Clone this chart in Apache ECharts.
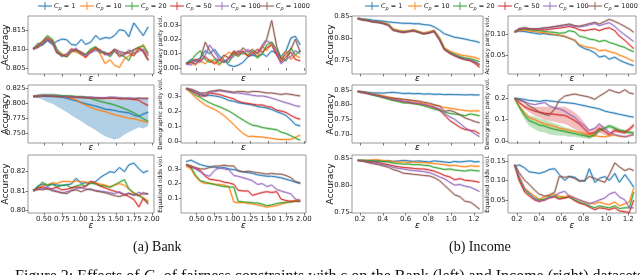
<!DOCTYPE html>
<html><head><meta charset="utf-8">
<script src="https://cdn.jsdelivr.net/npm/echarts@6/dist/echarts.min.js"></script>
<style>html,body{margin:0;padding:0;background:#fff}#c{width:640px;height:275px}</style>
</head><body><div id="c"></div>
<script>
const seriesNames = ['C_p = 1','C_p = 10','C_p = 20','C_p = 50','C_p = 100','C_p = 1000'];
const seriesColors = ['#1f77b4','#ff7f0e','#2ca02c','#d62728','#9467bd','#8c564b'];

const bankEps = [0.35,0.42,0.48,0.55,0.62,0.68,0.75,0.82,0.88,0.95,1.02,1.08,1.15,1.22,1.28,1.35,1.42,1.48,1.55,1.62,1.68,1.75,1.82,1.88,1.95];
const incomeEps = [0.18,0.22,0.27,0.31,0.36,0.40,0.45,0.49,0.54,0.58,0.63,0.67,0.72,0.76,0.81,0.85,0.90,0.94,0.99,1.03,1.08,1.12,1.17,1.21,1.25];

const bankXTicks = [0.5,0.75,1.0,1.25,1.5,1.75,2.0];
const incomeXTicks = [0.2,0.4,0.6,0.8,1.0,1.2];

const bankAccTopTicks = [0.805,0.810,0.815];
const bankApvTicks = [0.00,0.01,0.02,0.03];
const bankAccMidTicks = [0.750,0.775,0.800,0.825];
const bankDpvTicks = [0.0,0.1,0.2,0.3];
const bankAccBotTicks = [0.80,0.81,0.82];
const bankEovTicks = [0.1,0.2,0.3];
const incAccTopTicks = [0.75,0.80,0.85];
const incApvTicks = [0.05,0.10];
const incAccMidTicks = [0.70,0.75,0.80,0.85];
const incDpvTicks = [0.0,0.1,0.2];
const incAccBotTicks = [0.75,0.80,0.85];
const incEovTicks = [0.05,0.10,0.15];

// series order in every panel: Cp = 1, 10, 20, 50, 100, 1000
const bankAccTop = [
 [0.8100,0.8115,0.8110,0.8122,0.8112,0.8120,0.8126,0.8124,0.8112,0.8110,0.8125,0.8112,0.8118,0.8135,0.8125,0.8130,0.8128,0.8135,0.8150,0.8148,0.8132,0.8168,0.8150,0.8135,0.8158],
 [0.8100,0.8112,0.8118,0.8128,0.8122,0.8095,0.8088,0.8082,0.8095,0.8092,0.8085,0.8078,0.8098,0.8102,0.8088,0.8062,0.8072,0.8058,0.8052,0.8075,0.8082,0.8090,0.8098,0.8112,0.8085],
 [0.8100,0.8110,0.8120,0.8135,0.8125,0.8100,0.8085,0.8080,0.8098,0.8095,0.8088,0.8085,0.8100,0.8106,0.8090,0.8092,0.8080,0.8095,0.8085,0.8080,0.8070,0.8098,0.8105,0.8108,0.8090],
 [0.8100,0.8108,0.8118,0.8130,0.8120,0.8092,0.8082,0.8086,0.8100,0.8098,0.8090,0.8078,0.8092,0.8104,0.8098,0.8085,0.8090,0.8098,0.8080,0.8088,0.8090,0.8082,0.8102,0.8096,0.8072],
 [0.8100,0.8106,0.8115,0.8126,0.8118,0.8096,0.8080,0.8088,0.8094,0.8102,0.8086,0.8082,0.8090,0.8096,0.8094,0.8088,0.8082,0.8096,0.8090,0.8084,0.8098,0.8088,0.8094,0.8100,0.8082],
 [0.8100,0.8104,0.8112,0.8124,0.8115,0.8090,0.8084,0.8080,0.8092,0.8098,0.8092,0.8086,0.8095,0.8100,0.8096,0.8090,0.8086,0.8100,0.8094,0.8090,0.8092,0.8098,0.8104,0.8092,0.8070]
];
const bankApv = [
 [0.003,0.006,0.005,0.007,0.012,0.010,0.013,0.008,0.006,0.002,0.001,0.002,0.004,0.008,0.009,0.008,0.010,0.008,0.012,0.010,0.008,0.012,0.021,0.022,0.016],
 [0.003,0.004,0.002,0.005,0.003,0.006,0.004,0.002,0.008,0.011,0.009,0.012,0.010,0.009,0.011,0.008,0.015,0.012,0.018,0.010,0.005,0.012,0.006,0.009,0.007],
 [0.003,0.005,0.009,0.012,0.006,0.004,0.006,0.003,0.005,0.004,0.010,0.008,0.011,0.009,0.012,0.007,0.010,0.016,0.018,0.013,0.007,0.005,0.014,0.009,0.012],
 [0.003,0.004,0.006,0.005,0.008,0.005,0.003,0.006,0.004,0.007,0.011,0.009,0.012,0.008,0.010,0.013,0.011,0.014,0.016,0.009,0.004,0.008,0.011,0.006,0.005],
 [0.003,0.002,0.005,0.004,0.009,0.016,0.011,0.006,0.004,0.006,0.008,0.012,0.010,0.013,0.009,0.011,0.014,0.019,0.017,0.011,0.003,0.006,0.008,0.012,0.010],
 [0.003,0.004,0.003,0.006,0.018,0.012,0.007,0.005,0.009,0.007,0.012,0.010,0.014,0.011,0.013,0.010,0.016,0.020,0.033,0.015,0.006,0.010,0.013,0.020,0.011]
];
const bankAccMid = [
 [0.811,0.811,0.812,0.811,0.812,0.811,0.810,0.808,0.806,0.804,0.801,0.799,0.797,0.795,0.793,0.790,0.789,0.788,0.786,0.785,0.784,0.780,0.778,0.782,0.785],
 [0.811,0.812,0.812,0.813,0.812,0.812,0.811,0.810,0.808,0.805,0.800,0.797,0.793,0.790,0.788,0.786,0.783,0.781,0.779,0.777,0.775,0.774,0.772,0.770,0.768],
 [0.811,0.812,0.813,0.813,0.813,0.813,0.812,0.812,0.812,0.811,0.811,0.810,0.808,0.805,0.803,0.801,0.799,0.797,0.794,0.791,0.788,0.784,0.779,0.774,0.770],
 [0.811,0.812,0.812,0.812,0.812,0.811,0.811,0.811,0.810,0.810,0.810,0.809,0.809,0.809,0.808,0.808,0.808,0.808,0.807,0.807,0.807,0.806,0.805,0.800,0.796],
 [0.811,0.812,0.812,0.812,0.812,0.812,0.811,0.811,0.811,0.810,0.810,0.810,0.810,0.809,0.809,0.809,0.810,0.810,0.809,0.808,0.809,0.808,0.808,0.807,0.807],
 [0.811,0.811,0.812,0.812,0.811,0.811,0.811,0.810,0.810,0.810,0.809,0.809,0.809,0.808,0.808,0.808,0.809,0.808,0.808,0.808,0.807,0.807,0.808,0.808,0.808]
];
const bankAccMidBlueLo = [0.810,0.808,0.806,0.802,0.799,0.795,0.790,0.785,0.780,0.775,0.770,0.765,0.760,0.755,0.750,0.745,0.742,0.740,0.742,0.748,0.752,0.756,0.760,0.758,0.762];
const bankAccMidBlueHi = [0.813,0.815,0.816,0.816,0.816,0.815,0.814,0.813,0.812,0.811,0.810,0.810,0.809,0.808,0.807,0.806,0.806,0.805,0.806,0.806,0.805,0.806,0.805,0.806,0.806];
const bankDpv = [
 [0.350,0.340,0.325,0.310,0.300,0.305,0.300,0.295,0.285,0.270,0.265,0.255,0.250,0.245,0.240,0.230,0.225,0.220,0.210,0.195,0.185,0.170,0.140,0.110,0.100],
 [0.350,0.320,0.290,0.265,0.240,0.225,0.210,0.190,0.170,0.140,0.110,0.080,0.050,0.030,0.032,0.028,0.026,0.022,0.018,0.012,0.010,0.010,0.012,0.025,0.040],
 [0.350,0.330,0.305,0.290,0.270,0.255,0.240,0.228,0.215,0.200,0.180,0.160,0.140,0.120,0.105,0.100,0.090,0.085,0.080,0.075,0.060,0.050,0.035,0.020,0.005],
 [0.350,0.335,0.320,0.300,0.300,0.320,0.315,0.310,0.300,0.290,0.280,0.265,0.255,0.250,0.245,0.240,0.240,0.230,0.225,0.205,0.200,0.190,0.170,0.155,0.145],
 [0.350,0.340,0.325,0.315,0.310,0.325,0.330,0.335,0.330,0.325,0.320,0.320,0.315,0.310,0.305,0.300,0.300,0.295,0.285,0.275,0.265,0.255,0.245,0.235,0.230],
 [0.350,0.345,0.335,0.320,0.320,0.330,0.335,0.340,0.335,0.330,0.325,0.330,0.330,0.325,0.330,0.330,0.325,0.320,0.320,0.315,0.310,0.315,0.310,0.305,0.300]
];
const bankAccBot = [
 [0.8100,0.8125,0.8135,0.8125,0.8135,0.8130,0.8128,0.8132,0.8135,0.8165,0.8138,0.8142,0.8140,0.8148,0.8168,0.8185,0.8200,0.8195,0.8222,0.8200,0.8235,0.8245,0.8215,0.8195,0.8205],
 [0.8100,0.8115,0.8125,0.8130,0.8142,0.8138,0.8148,0.8150,0.8146,0.8152,0.8148,0.8145,0.8143,0.8140,0.8135,0.8130,0.8120,0.8130,0.8138,0.8128,0.8110,0.8085,0.8078,0.8065,0.8045],
 [0.8100,0.8120,0.8145,0.8130,0.8135,0.8120,0.8128,0.8130,0.8115,0.8125,0.8132,0.8125,0.8140,0.8135,0.8128,0.8125,0.8118,0.8130,0.8145,0.8158,0.8110,0.8090,0.8075,0.8060,0.8040],
 [0.8100,0.8115,0.8120,0.8110,0.8112,0.8118,0.8105,0.8108,0.8115,0.8120,0.8118,0.8122,0.8150,0.8140,0.8125,0.8115,0.8105,0.8098,0.8090,0.8080,0.8070,0.8055,0.8015,0.8060,0.8030],
 [0.8100,0.8108,0.8112,0.8118,0.8105,0.8100,0.8088,0.8095,0.8102,0.8112,0.8115,0.8110,0.8105,0.8102,0.8098,0.8095,0.8090,0.8085,0.8095,0.8080,0.8088,0.8075,0.8092,0.8082,0.8085],
 [0.8100,0.8108,0.8105,0.8110,0.8100,0.8095,0.8090,0.8085,0.8100,0.8105,0.8095,0.8105,0.8110,0.8098,0.8095,0.8090,0.8082,0.8075,0.8070,0.8078,0.8085,0.8080,0.8075,0.8090,0.8082]
];
const bankEov = [
 [0.350,0.360,0.345,0.330,0.320,0.315,0.312,0.305,0.310,0.300,0.295,0.290,0.280,0.275,0.270,0.260,0.255,0.250,0.250,0.245,0.240,0.230,0.220,0.210,0.200],
 [0.320,0.300,0.250,0.215,0.200,0.205,0.195,0.195,0.190,0.180,0.075,0.070,0.072,0.065,0.062,0.055,0.048,0.040,0.045,0.050,0.060,0.070,0.078,0.085,0.090],
 [0.330,0.310,0.260,0.220,0.210,0.200,0.195,0.185,0.180,0.178,0.175,0.080,0.075,0.074,0.070,0.068,0.060,0.050,0.055,0.065,0.070,0.072,0.075,0.080,0.080],
 [0.330,0.310,0.305,0.290,0.250,0.230,0.225,0.220,0.210,0.205,0.195,0.155,0.150,0.150,0.120,0.130,0.140,0.145,0.140,0.145,0.095,0.085,0.080,0.082,0.080],
 [0.330,0.320,0.300,0.280,0.260,0.250,0.290,0.310,0.300,0.295,0.255,0.250,0.240,0.230,0.220,0.195,0.200,0.180,0.190,0.160,0.150,0.140,0.130,0.095,0.085],
 [0.330,0.320,0.310,0.300,0.300,0.310,0.320,0.320,0.325,0.320,0.320,0.285,0.280,0.285,0.280,0.275,0.270,0.265,0.270,0.265,0.265,0.255,0.240,0.215,0.205]
];

const incAccTop = [
 [0.845,0.844,0.843,0.841,0.840,0.839,0.837,0.836,0.835,0.834,0.834,0.833,0.833,0.831,0.830,0.826,0.818,0.810,0.806,0.802,0.800,0.798,0.795,0.793,0.790],
 [0.845,0.843,0.841,0.839,0.837,0.836,0.832,0.821,0.818,0.816,0.817,0.819,0.815,0.812,0.815,0.818,0.800,0.778,0.770,0.766,0.762,0.760,0.758,0.756,0.752],
 [0.845,0.843,0.841,0.838,0.837,0.835,0.831,0.820,0.816,0.815,0.816,0.818,0.814,0.810,0.813,0.817,0.798,0.776,0.768,0.763,0.758,0.755,0.753,0.750,0.746],
 [0.845,0.842,0.840,0.838,0.836,0.834,0.830,0.819,0.815,0.813,0.815,0.817,0.813,0.810,0.812,0.816,0.796,0.774,0.765,0.760,0.754,0.751,0.748,0.742,0.733],
 [0.845,0.842,0.840,0.838,0.836,0.834,0.830,0.819,0.816,0.814,0.815,0.818,0.813,0.811,0.813,0.816,0.797,0.775,0.766,0.761,0.755,0.752,0.750,0.746,0.740],
 [0.845,0.842,0.840,0.837,0.836,0.834,0.829,0.818,0.815,0.813,0.816,0.817,0.813,0.810,0.812,0.815,0.796,0.775,0.766,0.760,0.755,0.752,0.749,0.745,0.738]
];
const incApv = [
 [0.105,0.107,0.106,0.104,0.102,0.100,0.101,0.099,0.098,0.097,0.094,0.090,0.085,0.072,0.065,0.062,0.055,0.045,0.048,0.040,0.045,0.038,0.032,0.028,0.025],
 [0.105,0.108,0.109,0.107,0.106,0.104,0.103,0.101,0.099,0.097,0.095,0.090,0.085,0.075,0.070,0.068,0.066,0.060,0.062,0.058,0.055,0.050,0.045,0.040,0.035],
 [0.105,0.110,0.112,0.110,0.109,0.108,0.106,0.105,0.104,0.102,0.103,0.108,0.105,0.095,0.092,0.088,0.086,0.082,0.085,0.080,0.076,0.072,0.068,0.062,0.058],
 [0.105,0.111,0.113,0.112,0.111,0.110,0.110,0.111,0.113,0.114,0.116,0.118,0.115,0.110,0.108,0.110,0.112,0.108,0.113,0.115,0.108,0.095,0.085,0.075,0.065],
 [0.105,0.112,0.114,0.113,0.112,0.112,0.114,0.115,0.117,0.118,0.120,0.122,0.118,0.117,0.119,0.122,0.125,0.120,0.124,0.127,0.118,0.108,0.098,0.090,0.082],
 [0.105,0.113,0.115,0.113,0.112,0.113,0.115,0.116,0.118,0.120,0.122,0.124,0.120,0.119,0.122,0.125,0.128,0.124,0.130,0.135,0.130,0.125,0.118,0.112,0.104]
];
const incAccMid = [
 [0.845,0.844,0.842,0.840,0.840,0.839,0.841,0.842,0.840,0.838,0.839,0.837,0.838,0.836,0.837,0.835,0.836,0.834,0.835,0.834,0.834,0.833,0.834,0.833,0.833],
 [0.845,0.843,0.840,0.836,0.833,0.830,0.826,0.823,0.820,0.818,0.815,0.812,0.808,0.805,0.800,0.798,0.795,0.790,0.788,0.785,0.782,0.780,0.778,0.779,0.778],
 [0.845,0.842,0.838,0.833,0.828,0.824,0.818,0.814,0.810,0.806,0.805,0.803,0.800,0.796,0.790,0.785,0.780,0.775,0.770,0.768,0.765,0.762,0.768,0.765,0.762],
 [0.845,0.842,0.838,0.834,0.830,0.826,0.822,0.817,0.814,0.810,0.808,0.805,0.803,0.800,0.795,0.790,0.782,0.765,0.745,0.735,0.722,0.715,0.712,0.710,0.700],
 [0.845,0.842,0.838,0.834,0.830,0.826,0.822,0.818,0.815,0.812,0.809,0.806,0.804,0.800,0.796,0.792,0.785,0.770,0.758,0.750,0.735,0.722,0.710,0.700,0.690],
 [0.845,0.842,0.839,0.835,0.832,0.828,0.824,0.822,0.820,0.818,0.816,0.814,0.812,0.808,0.805,0.800,0.795,0.778,0.780,0.775,0.765,0.755,0.748,0.742,0.738]
];
const incDpv = [
 [0.200,0.198,0.195,0.190,0.188,0.185,0.190,0.188,0.185,0.182,0.180,0.178,0.175,0.170,0.165,0.160,0.155,0.150,0.140,0.135,0.130,0.125,0.120,0.115,0.112],
 [0.200,0.165,0.130,0.110,0.100,0.090,0.080,0.075,0.068,0.060,0.055,0.050,0.045,0.040,0.035,0.030,0.025,0.022,0.020,0.025,0.028,0.022,0.020,0.025,0.030],
 [0.200,0.160,0.120,0.095,0.085,0.075,0.070,0.062,0.055,0.050,0.045,0.040,0.035,0.030,0.025,0.020,0.030,0.050,0.060,0.070,0.060,0.050,0.045,0.040,0.038],
 [0.200,0.180,0.160,0.150,0.140,0.135,0.130,0.128,0.125,0.122,0.120,0.110,0.095,0.080,0.055,0.035,0.040,0.060,0.045,0.030,0.050,0.045,0.040,0.055,0.075],
 [0.200,0.190,0.185,0.175,0.170,0.175,0.180,0.165,0.155,0.150,0.140,0.125,0.110,0.090,0.070,0.050,0.060,0.080,0.060,0.040,0.030,0.025,0.020,0.025,0.030],
 [0.200,0.195,0.180,0.165,0.150,0.135,0.125,0.120,0.150,0.190,0.210,0.215,0.220,0.215,0.210,0.205,0.195,0.210,0.225,0.240,0.230,0.225,0.240,0.225,0.220]
];
const incDpvGreenLo = [0.200,0.150,0.100,0.070,0.055,0.045,0.040,0.032,0.027,0.025,0.025,0.020,0.020,0.015,0.013,0.008,0.020,0.040,0.050,0.060,0.050,0.040,0.037,0.032,0.030];
const incDpvGreenHi = [0.200,0.170,0.140,0.120,0.115,0.105,0.100,0.092,0.083,0.075,0.065,0.060,0.050,0.045,0.037,0.032,0.040,0.060,0.070,0.080,0.070,0.060,0.053,0.048,0.046];
const incDpvRedLo = [0.200,0.175,0.150,0.135,0.120,0.110,0.100,0.095,0.090,0.085,0.080,0.070,0.055,0.045,0.025,0.015,0.020,0.040,0.030,0.018,0.038,0.035,0.030,0.045,0.065];
const incDpvRedHi = [0.200,0.185,0.170,0.165,0.160,0.160,0.160,0.160,0.160,0.160,0.160,0.150,0.135,0.115,0.085,0.055,0.060,0.080,0.060,0.042,0.062,0.055,0.050,0.065,0.085];
const incAccBot = [
 [0.846,0.846,0.845,0.845,0.845,0.844,0.845,0.844,0.845,0.846,0.845,0.844,0.845,0.844,0.843,0.845,0.844,0.843,0.842,0.844,0.843,0.844,0.845,0.843,0.844],
 [0.846,0.846,0.846,0.847,0.847,0.846,0.845,0.844,0.843,0.843,0.842,0.843,0.842,0.842,0.841,0.840,0.839,0.838,0.836,0.837,0.835,0.834,0.836,0.835,0.835],
 [0.846,0.846,0.846,0.845,0.845,0.844,0.843,0.841,0.840,0.839,0.839,0.838,0.838,0.837,0.836,0.833,0.831,0.829,0.830,0.828,0.827,0.826,0.828,0.827,0.826],
 [0.846,0.845,0.844,0.843,0.842,0.840,0.838,0.836,0.834,0.833,0.832,0.831,0.830,0.830,0.828,0.826,0.822,0.818,0.815,0.810,0.812,0.809,0.808,0.807,0.805],
 [0.846,0.845,0.843,0.842,0.840,0.838,0.836,0.833,0.831,0.830,0.828,0.827,0.826,0.825,0.823,0.820,0.815,0.812,0.805,0.800,0.801,0.798,0.796,0.792,0.788],
 [0.846,0.845,0.842,0.840,0.838,0.836,0.833,0.829,0.826,0.822,0.821,0.820,0.819,0.818,0.817,0.814,0.808,0.800,0.790,0.782,0.778,0.770,0.768,0.762,0.755]
];
const incEov = [
 [0.135,0.140,0.132,0.122,0.120,0.118,0.122,0.128,0.130,0.115,0.100,0.110,0.108,0.100,0.098,0.130,0.095,0.105,0.110,0.100,0.118,0.095,0.115,0.100,0.082],
 [0.140,0.110,0.080,0.070,0.060,0.052,0.058,0.062,0.065,0.060,0.058,0.062,0.055,0.050,0.045,0.042,0.040,0.045,0.040,0.038,0.045,0.035,0.040,0.045,0.080],
 [0.140,0.105,0.075,0.065,0.055,0.050,0.052,0.058,0.060,0.055,0.056,0.058,0.050,0.045,0.040,0.035,0.030,0.035,0.032,0.030,0.035,0.028,0.030,0.030,0.070],
 [0.140,0.100,0.070,0.060,0.050,0.046,0.050,0.055,0.058,0.052,0.055,0.058,0.048,0.042,0.038,0.032,0.025,0.030,0.028,0.025,0.030,0.022,0.020,0.018,0.050],
 [0.140,0.110,0.078,0.068,0.052,0.048,0.050,0.056,0.060,0.068,0.072,0.060,0.055,0.050,0.045,0.040,0.045,0.050,0.055,0.065,0.070,0.058,0.050,0.030,0.030],
 [0.140,0.120,0.100,0.090,0.075,0.065,0.060,0.062,0.070,0.110,0.108,0.110,0.105,0.098,0.100,0.110,0.105,0.100,0.095,0.115,0.145,0.135,0.125,0.130,0.125]
];

// layout
const colLeft = [28,181,352,508];
const colWidth = [126,125,131,128];
const rowTop = [16,85,155];
const rowH = 58;
const FONT = 'DejaVu Sans';
const legendLefts = [[38,80,125,170,215,260],[365,408,453,498,543,588]];

const panels = [
 {c:0,r:0,x:bankEps,d:bankAccTop,xr:[0.28,2.03],yr:[0.8035,0.8186],yt:bankAccTopTicks,yd:3,xt:bankXTicks,xd:2,name:'Accuracy'},
 {c:1,r:0,x:bankEps,d:bankApv,xr:[0.28,2.03],yr:[-0.0041,0.0361],yt:bankApvTicks,yd:2,xt:bankXTicks,xd:2,name:'Accuracy parity viol.'},
 {c:0,r:1,x:bankEps,d:bankAccMid,xr:[0.28,2.03],yr:[0.734,0.830],yt:bankAccMidTicks,yd:3,xt:bankXTicks,xd:2,name:'Accuracy'},
 {c:1,r:1,x:bankEps,d:bankDpv,xr:[0.28,2.03],yr:[-0.013,0.373],yt:bankDpvTicks,yd:1,xt:bankXTicks,xd:2,name:'Demographic parity viol.'},
 {c:0,r:2,x:bankEps,d:bankAccBot,xr:[0.28,2.03],yr:[0.7984,0.8287],yt:bankAccBotTicks,yd:2,xt:bankXTicks,xd:2,name:'Accuracy'},
 {c:1,r:2,x:bankEps,d:bankEov,xr:[0.28,2.03],yr:[0,0.395],yt:bankEovTicks,yd:1,xt:bankXTicks,xd:2,name:'Equalized odds viol.'},
 {c:2,r:0,x:incomeEps,d:incAccTop,xr:[0.13,1.28],yr:[0.718,0.8507],yt:incAccTopTicks,yd:2,xt:incomeXTicks,xd:1,name:'Accuracy'},
 {c:3,r:0,x:incomeEps,d:incApv,xr:[0.12,1.27],yr:[0.0048,0.143],yt:incApvTicks,yd:2,xt:incomeXTicks,xd:1,name:'Accuracy parity viol.'},
 {c:2,r:1,x:incomeEps,d:incAccMid,xr:[0.13,1.28],yr:[0.669,0.867],yt:incAccMidTicks,yd:2,xt:incomeXTicks,xd:1,name:'Accuracy'},
 {c:3,r:1,x:incomeEps,d:incDpv,xr:[0.12,1.27],yr:[-0.009,0.262],yt:incDpvTicks,yd:1,xt:incomeXTicks,xd:1,name:'Demographic parity viol.'},
 {c:2,r:2,x:incomeEps,d:incAccBot,xr:[0.13,1.28],yr:[0.748,0.856],yt:incAccBotTicks,yd:2,xt:incomeXTicks,xd:1,name:'Accuracy'},
 {c:3,r:2,x:incomeEps,d:incEov,xr:[0.12,1.27],yr:[0.0167,0.165],yt:incEovTicks,yd:2,xt:incomeXTicks,xd:1,name:'Equalized odds viol.'}
];
const bands = [
 {p:2,s:0,lo:bankAccMidBlueLo,hi:bankAccMidBlueHi,op:0.35},
 {p:9,s:2,lo:incDpvGreenLo,hi:incDpvGreenHi,op:0.3},
 {p:9,s:3,lo:incDpvRedLo,hi:incDpvRedHi,op:0.3}
];
const nameGaps = [18,18,17,18];

const grid=[], xAxis=[], yAxis=[], series=[];
panels.forEach((p,k)=>{
  const isAcc = (p.c===0||p.c===2);
  grid.push({left:colLeft[p.c],top:rowTop[p.r],width:colWidth[p.c],height:rowH,show:true,borderColor:'#808080',borderWidth:0.8});
  xAxis.push({type:'value',gridIndex:k,min:p.xr[0],max:p.xr[1],
    axisLine:{show:false},splitLine:{show:false},
    axisTick:{show:true,customValues:p.xt,length:2.5,lineStyle:{color:'#444',width:0.7}},
    axisLabel:{show:p.r===2,customValues:p.xt,formatter:v=>Number(v).toFixed(p.xd),fontSize:7,color:'#222',margin:3,fontFamily:FONT},
    name:'ε',nameLocation:'middle',nameGap:p.r===2?8:0,nameMoveOverlap:false,
    nameTextStyle:{fontStyle:'italic',fontSize:9,color:'#111',fontFamily:FONT}});
  yAxis.push({type:'value',gridIndex:k,min:p.yr[0],max:p.yr[1],
    axisLine:{show:false},splitLine:{show:false},
    axisTick:{show:true,customValues:p.yt,length:2.5,lineStyle:{color:'#444',width:0.7}},
    axisLabel:{customValues:p.yt,formatter:v=>Number(v).toFixed(p.yd),fontSize:6.8,color:'#222',margin:2.5,fontFamily:FONT},
    name:p.name,nameLocation:'middle',nameRotate:90,nameGap:nameGaps[p.c],nameMoveOverlap:false,
    nameTextStyle:{fontSize:isAcc?9:5.8,color:'#111',fontFamily:FONT}});
  p.d.forEach((ys,i)=>{
    const pts = p.x.map((x,j)=>[x,ys[j]]);
    series.push({type:'line',name:'_eb',xAxisIndex:k,yAxisIndex:k,data:pts,showSymbol:false,silent:true,
      lineStyle:{width:2.4,color:seriesColors[i],opacity:0.28},itemStyle:{color:seriesColors[i]},z:1});
    series.push({type:'line',name:seriesNames[i],xAxisIndex:k,yAxisIndex:k,data:pts,showSymbol:false,
      lineStyle:{width:0.9,color:seriesColors[i]},itemStyle:{color:seriesColors[i]},z:3});
  });
});
bands.forEach(b=>{
  const p = panels[b.p];
  series.push({type:'custom',name:'_band',xAxisIndex:b.p,yAxisIndex:b.p,silent:true,z:0,clip:true,
    data:[[p.x[0],b.lo[0]]],encode:{x:0,y:1},
    renderItem:function(params,api){
      const up = p.x.map((x,j)=>api.coord([x,b.hi[j]]));
      const dn = p.x.map((x,j)=>api.coord([x,b.lo[j]])).reverse();
      return {type:'polygon',shape:{points:up.concat(dn)},style:{fill:seriesColors[b.s],opacity:b.op}};
    }});
});

const legendIcon = 'path://M0,4h16v1h-16z M7.5,0h1v9h-1z';
const legends = [];
legendLefts.forEach(row=>{
  row.forEach((lx,i)=>{
    legends.push({left:lx,top:2,itemWidth:14,itemHeight:8,padding:0,
      data:[{name:seriesNames[i],icon:legendIcon}],
      formatter:function(n){return '{c|C}{p|p}{t| = '+n.split('= ')[1]+'}';},
      textStyle:{fontFamily:FONT,fontSize:6.5,color:'#222',padding:[0,0,0,-3],
        rich:{c:{fontStyle:'italic',fontSize:6.5,fontFamily:FONT,lineHeight:10,verticalAlign:'middle'},
              p:{fontStyle:'italic',fontSize:5,fontFamily:FONT,lineHeight:6,verticalAlign:'bottom'},
              t:{fontSize:6.5,fontFamily:FONT,lineHeight:10,verticalAlign:'middle'}}}});
  });
});

const chart = echarts.init(document.getElementById('c'),null,{renderer:'canvas'});
chart.setOption({
  animation:false,
  backgroundColor:'#fff',
  legend:legends,
  grid:grid,xAxis:xAxis,yAxis:yAxis,series:series,
  graphic:[
    {type:'text',left:133,top:240,style:{text:'(a) Bank',font:'14px "Liberation Serif"',fill:'#111'}},
    {type:'text',left:449,top:240,style:{text:'(b) Income',font:'14px "Liberation Serif"',fill:'#111'}},
    {type:'text',left:15,top:269,style:{
      text:'{n|Figure 2: Effects of }{i|C}{s|p}{n| of fairness constraints with ε on the Bank (left) and Income (right) datasets.}',
      rich:{n:{font:'16px "Liberation Serif"',fill:'#111'},i:{font:'italic 16px "Liberation Serif"',fill:'#111'},s:{font:'italic 11px "Liberation Serif"',fill:'#111',verticalAlign:'bottom',lineHeight:16}}}}
  ]
});
</script></body></html>
